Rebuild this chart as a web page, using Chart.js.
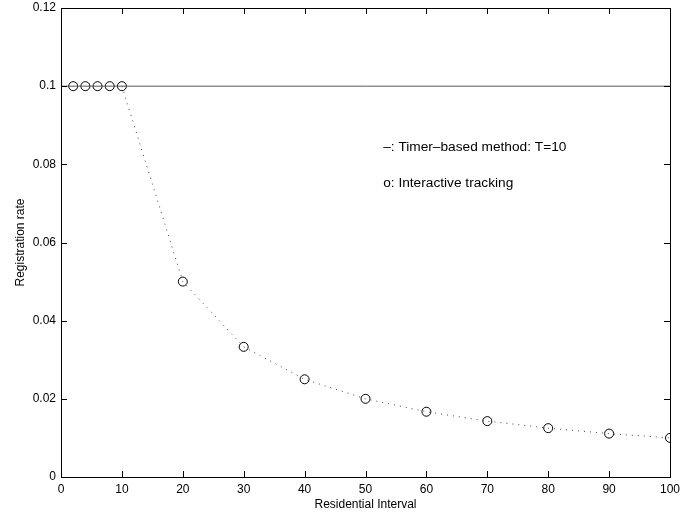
<!DOCTYPE html>
<html><head><meta charset="utf-8">
<script src="https://cdn.jsdelivr.net/npm/chart.js@4/dist/chart.umd.min.js"></script>
<style>html,body{margin:0;padding:0;background:#fff}#wrap{width:680px;height:512px}</style>
</head><body><div id="wrap"><canvas id="c"></canvas></div>
<script>
const intervals = [2, 4, 6, 8, 10, 20, 30, 40, 50, 60, 70, 80, 90, 100];
const rates = [0.1, 0.1, 0.1, 0.1, 0.1, 0.05, 0.0333, 0.025, 0.02, 0.0167, 0.0143, 0.0125, 0.0111, 0.01];
const curveX = [10, 20, 30, 40, 50, 60, 70, 80, 90, 100];
const curveY = [0.1, 0.05, 0.0333, 0.025, 0.02, 0.0167, 0.0143, 0.0125, 0.0111, 0.01];
const timerX = [0, 100];
const timerY = [0.1, 0.1];
const xTicks = [0, 10, 20, 30, 40, 50, 60, 70, 80, 90, 100];
const yTicks = [0, 0.02, 0.04, 0.06, 0.08, 0.1, 0.12];
const notes = [
  { x: 52.9, y: 0.0844, text: '\u2013: Timer\u2013based method: T=10' },
  { x: 52.9, y: 0.0752, text: 'o: Interactive tracking' }
];

const FONT = '"Liberation Sans", Arial, sans-serif';

const framePlugin = {
  id: 'frame',
  afterDraw(chart) {
    const { ctx, chartArea: a, scales } = chart;
    ctx.save();
    ctx.strokeStyle = '#000';
    ctx.lineWidth = 1;
    ctx.strokeRect(Math.round(a.left) + 0.5, Math.round(a.top) + 0.5, Math.round(a.right - a.left), Math.round(a.bottom - a.top));
    const L = 6;
    ctx.beginPath();
    xTicks.forEach(v => {
      const px = Math.round(scales.x.getPixelForValue(v)) + 0.5;
      ctx.moveTo(px, a.bottom); ctx.lineTo(px, a.bottom - L);
      ctx.moveTo(px, a.top); ctx.lineTo(px, a.top + L);
    });
    yTicks.forEach(v => {
      const py = Math.round(scales.y.getPixelForValue(v)) + 0.5;
      ctx.moveTo(a.left, py); ctx.lineTo(a.left + L, py);
      ctx.moveTo(a.right, py); ctx.lineTo(a.right - L, py);
    });
    ctx.stroke();
    ctx.fillStyle = '#000';
    ctx.font = '13.7px ' + FONT;
    ctx.textBaseline = 'middle';
    ctx.textAlign = 'left';
    notes.forEach(n => {
      ctx.fillText(n.text, scales.x.getPixelForValue(n.x), scales.y.getPixelForValue(n.y));
    });
    ctx.restore();
  }
};

new Chart(document.getElementById('c'), {
  type: 'scatter',
  data: {
    datasets: [
      {
        label: 'timer',
        data: timerX.map((x, i) => ({ x, y: timerY[i] })),
        showLine: true,
        borderColor: '#555',
        borderWidth: 1,
        pointRadius: 0
      },
      {
        label: 'curve',
        data: curveX.map((x, i) => ({ x, y: curveY[i] })),
        showLine: true,
        borderColor: '#444',
        borderWidth: 1,
        borderDash: [1, 5],
        tension: 0,
        pointRadius: 0
      },
      {
        label: 'points',
        data: intervals.map((x, i) => ({ x, y: rates[i] })),
        showLine: false,
        pointStyle: 'circle',
        pointRadius: 4.5,
        pointBorderColor: '#000',
        pointBackgroundColor: 'rgba(0,0,0,0)',
        pointBorderWidth: 1
      }
    ]
  },
  options: {
    responsive: true,
    maintainAspectRatio: false,
    animation: false,
    events: [],
    layout: { padding: { left: 0, top: 8, right: 10, bottom: 0 } },
    plugins: { legend: { display: false }, tooltip: { enabled: false } },
    scales: {
      x: {
        type: 'linear', min: 0, max: 100,
        afterBuildTicks: s => { s.ticks = xTicks.map(v => ({ value: v })); },
        afterFit: s => { s.height = 35; s.paddingLeft = 0; s.paddingRight = 0; },
        grid: { display: false, drawTicks: false },
        border: { display: false },
        ticks: { color: '#000', font: { family: FONT, size: 12 }, padding: 5, maxRotation: 0, callback: v => String(v) },
        title: { display: true, text: 'Residential Interval', color: '#000', font: { family: FONT, size: 12 }, padding: { top: 0, bottom: 0 } }
      },
      y: {
        type: 'linear', min: 0, max: 0.12,
        afterBuildTicks: s => { s.ticks = yTicks.map(v => ({ value: v })); },
        afterFit: s => { s.width = 61; s.paddingTop = 0; s.paddingBottom = 0; },
        grid: { display: false, drawTicks: false },
        border: { display: false },
        ticks: { color: '#000', font: { family: FONT, size: 12 }, padding: 5, callback: v => String(Math.round(v * 100) / 100) },
        title: { display: true, text: 'Registration rate', color: '#000', font: { family: FONT, size: 12 }, padding: { top: 13, bottom: 0 } }
      }
    }
  },
  plugins: [framePlugin]
});
</script>
</body></html>
